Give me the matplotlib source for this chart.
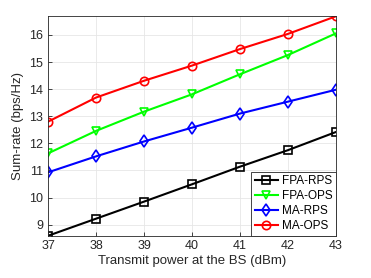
import matplotlib.pyplot as plt

plt.rcParams['font.family'] = ['Liberation Sans', 'DejaVu Sans']

power = [37, 38, 39, 40, 41, 42, 43]
fpa_rps = [8.59, 9.22, 9.85, 10.49, 11.14, 11.75, 12.42]
fpa_ops = [11.63, 12.46, 13.17, 13.81, 14.55, 15.26, 16.06]
ma_rps = [10.93, 11.52, 12.07, 12.58, 13.10, 13.54, 13.98]
ma_ops = [12.80, 13.69, 14.31, 14.87, 15.48, 16.04, 16.69]

fig = plt.figure(figsize=(3.71, 2.78), dpi=100)
ax = fig.add_axes([48 / 371, 1 - 235.5 / 278, 288 / 371, 219.5 / 278])

kw = dict(lw=1.5, ms=6, mfc='none', mew=1.2)
ax.plot(power, fpa_rps, 's-', color='black', label='FPA-RPS', **kw)
ax.plot(power, fpa_ops, 'v-', color=(0, 1, 0), label='FPA-OPS', **kw)
ax.plot(power, ma_rps, 'd-', color='blue', label='MA-RPS', **kw)
ax.plot(power, ma_ops, 'o-', color='red', label='MA-OPS', **kw)

ax.set_xlim(37, 43)
ax.set_ylim(8.6, 16.7)
ax.set_yticks(range(9, 17))
ax.grid(True, color='#e6e6e6', lw=0.6)
ax.set_axisbelow(True)
for s in ax.spines.values():
    s.set_color('#262626')
    s.set_linewidth(0.6)
ax.tick_params(direction='in', length=3, width=0.6, labelsize=9, colors='#262626')
ax.set_xlabel('Transmit power at the BS (dBm)', fontsize=9.5, color='#262626', labelpad=2)
ax.set_ylabel('Sum-rate (bps/Hz)', fontsize=9.5, color='#262626', labelpad=4)

leg = ax.legend(loc='lower right', fontsize=8.5, handlelength=2.0, handletextpad=0.3,
                borderaxespad=0, borderpad=0.3, labelspacing=0.25, fancybox=False,
                framealpha=1, edgecolor='#262626')
leg.get_frame().set_linewidth(0.6)

fig.savefig('out.png', dpi=100)
